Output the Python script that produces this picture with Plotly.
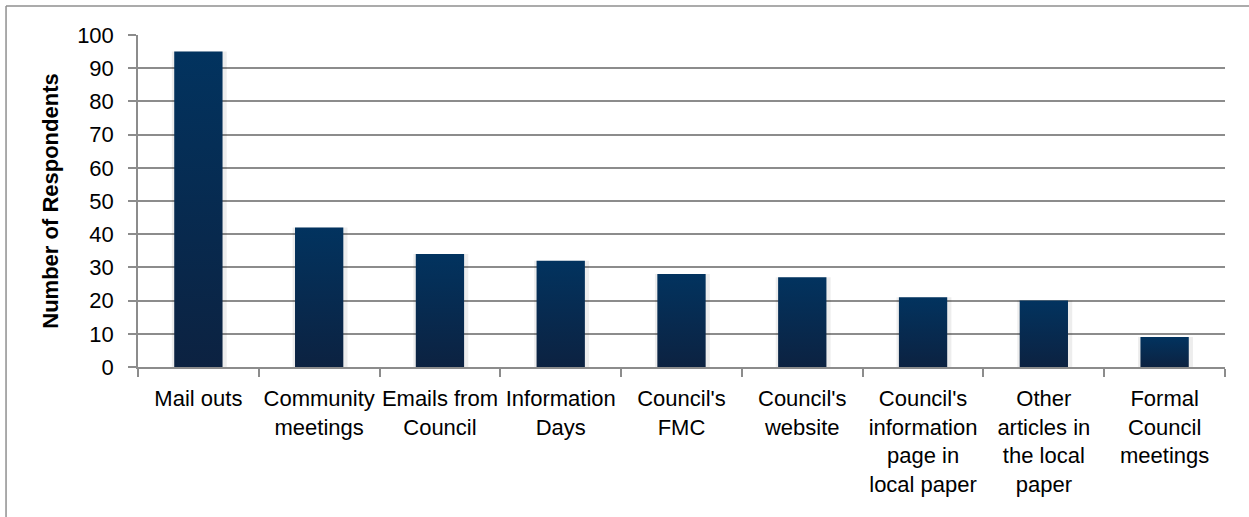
import plotly.graph_objects as go

# Survey: how respondents heard about council information
categories = [
    "Mail outs",
    "Community<br>meetings",
    "Emails from<br>Council",
    "Information<br>Days",
    "Council's<br>FMC",
    "Council's<br>website",
    "Council's<br>information<br>page in<br>local paper",
    "Other<br>articles in<br>the local<br>paper",
    "Formal<br>Council<br>meetings",
]
respondents = [95, 42, 34, 32, 28, 27, 21, 20, 9]

y_ticks = list(range(0, 101, 10))

BAR_HALF = 0.2
GRID = "#8c8c8c"
FONT = "Liberation Sans, Arial, sans-serif"

fig = go.Figure()

# Each column is a filled polygon so it can carry a vertical gradient
for i, v in enumerate(respondents):
    # faint drop shadow
    fig.add_trace(go.Scatter(
        x=[i - BAR_HALF - 0.02, i + BAR_HALF + 0.035, i + BAR_HALF + 0.035, i - BAR_HALF - 0.02, i - BAR_HALF - 0.02],
        y=[0, 0, v, v, 0],
        mode="none", fill="toself", fillcolor="rgba(0,0,0,0.07)",
        hoverinfo="skip", showlegend=False,
    ))
    fig.add_trace(go.Scatter(
        x=[i - BAR_HALF, i + BAR_HALF, i + BAR_HALF, i - BAR_HALF, i - BAR_HALF],
        y=[0, 0, v, v, 0],
        mode="none", fill="toself",
        fillgradient=dict(type="vertical",
                          colorscale=[[0, "#0c2241"], [1, "#02335f"]]),
        hovertemplate=f"{categories[i].replace('<br>', ' ')}: {v}<extra></extra>",
        showlegend=False,
    ))

# Outer frame of the chart (top and left edges)
frame_x = -0.1214
frame_top = 1.0873
fig.add_shape(type="line", xref="paper", yref="paper",
              x0=frame_x, x1=1.05, y0=frame_top, y1=frame_top,
              line=dict(color="#8f8f8f", width=1.5))
fig.add_shape(type="line", xref="paper", yref="paper",
              x0=frame_x, x1=frame_x, y0=frame_top, y1=-0.46,
              line=dict(color="#8f8f8f", width=1.5))

fig.update_layout(
    width=1249, height=517,
    margin=dict(l=138, r=24, t=35, b=150),
    paper_bgcolor="white", plot_bgcolor="white",
    font=dict(family=FONT, color="black"),
    xaxis=dict(
        range=[-0.5, len(categories) - 0.5],
        tickmode="array",
        tickvals=list(range(len(categories))),
        ticktext=categories,
        ticks="",
        ticklabelstandoff=11,
        tickfont=dict(size=22, family=FONT, color="black"),
        showgrid=False, zeroline=False,
        showline=True, linecolor=GRID, linewidth=1.5,
        minor=dict(tickvals=[k - 0.5 for k in range(len(categories) + 1)],
                   ticks="outside", ticklen=8, tickwidth=1.5, tickcolor=GRID,
                   showgrid=False),
        fixedrange=True,
    ),
    yaxis=dict(
        range=[0, 100],
        tickmode="array",
        tickvals=y_ticks,
        ticks="outside", ticklen=8, tickwidth=1.5, tickcolor=GRID,
        ticklabelstandoff=10,
        tickfont=dict(size=22, family=FONT, color="black"),
        showgrid=True, gridcolor=GRID, gridwidth=1.5,
        zeroline=False,
        showline=True, linecolor=GRID, linewidth=1.5,
        title=dict(text="<b>Number of Respondents</b>",
                   font=dict(size=22, family=FONT, color="black"),
                   standoff=12),
        fixedrange=True,
    ),
)

fig.write_html("out.html")
